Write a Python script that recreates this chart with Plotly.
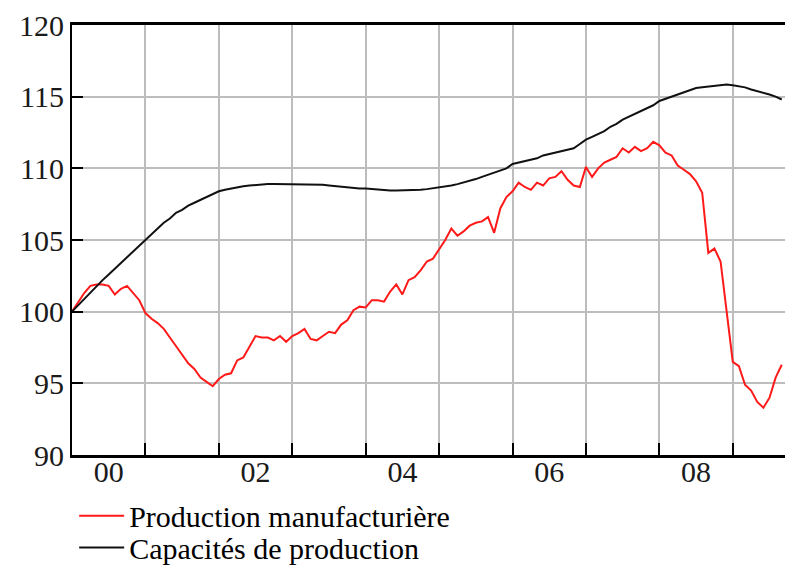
import plotly.graph_objects as go

# Monthly data, Jan 2000 .. Sep 2009 (index 100 = Jan 2000)
start_year = 2000
production = [
    100.0, 100.7, 101.3, 101.8, 101.9, 101.9, 101.8, 101.2, 101.6, 101.8, 101.3, 100.8,
    99.9, 99.5, 99.2, 98.8, 98.2, 97.6, 97.0, 96.4, 96.0, 95.4, 95.1, 94.8,
    95.3, 95.6, 95.7, 96.6, 96.8, 97.6, 98.3, 98.2, 98.2, 98.0, 98.3, 97.9,
    98.3, 98.5, 98.8, 98.1, 98.0, 98.3, 98.6, 98.5, 99.1, 99.4, 100.1, 100.35,
    100.3, 100.8, 100.8, 100.7, 101.4, 101.9, 101.2, 102.2, 102.4, 102.9, 103.5, 103.7,
    104.4, 105.0, 105.8, 105.3, 105.6, 106.0, 106.2, 106.3, 106.6, 105.5, 107.2, 108.0,
    108.4, 109.0, 108.7, 108.5, 109.0, 108.8, 109.3, 109.4, 109.8, 109.2, 108.8, 108.7,
    110.1, 109.4, 110.0, 110.4, 110.6, 110.8, 111.4, 111.1, 111.5, 111.2, 111.4, 111.85,
    111.6, 111.1, 110.9, 110.2, 109.9, 109.6, 109.1, 108.3, 104.1, 104.4, 103.5, 100.2,
    96.5, 96.2, 94.9, 94.5, 93.7, 93.3, 94.0, 95.4, 96.3,
]
capacite = [
    100.0, 100.45, 100.9, 101.3, 101.75, 102.2, 102.6, 103.0, 103.4, 103.8, 104.2, 104.6,
    105.0, 105.4, 105.8, 106.2, 106.5, 106.9, 107.1, 107.4, 107.6, 107.8, 108.0, 108.2,
    108.4, 108.5, 108.6, 108.7, 108.75, 108.8, 108.85, 108.9, 108.9, 108.9, 108.9, 108.9,
    108.9, 108.9, 108.9, 108.85, 108.85, 108.85, 108.8, 108.75, 108.7, 108.7, 108.65, 108.6,
    108.6, 108.55, 108.5, 108.5, 108.45, 108.45, 108.45, 108.45, 108.45, 108.5, 108.55, 108.6,
    108.7, 108.75, 108.8, 108.9, 109.0, 109.1, 109.25, 109.4, 109.55, 109.7, 109.85, 110.0,
    110.3, 110.4, 110.5, 110.6, 110.7, 110.9, 111.0, 111.1, 111.2, 111.3, 111.4, 111.7,
    112.0, 112.2, 112.4, 112.6, 112.9, 113.1, 113.4, 113.6, 113.8, 114.0, 114.2, 114.4,
    114.7, 114.85, 115.0, 115.2, 115.35, 115.5, 115.6, 115.65, 115.7, 115.75, 115.85, 115.85,
    115.8, 115.75, 115.65, 115.5, 115.4, 115.3, 115.15, 115.0, 114.8,
]
label_years = [2000, 2002, 2004, 2006, 2008]
tick_labels = ["00", "02", "04", "06", "08"]
grid_years = [2001, 2002, 2003, 2004, 2005, 2006, 2007, 2008, 2009]
y_ticks = [90, 95, 100, 105, 110, 115, 120]

t_prod = [start_year + i / 12 for i in range(len(production))]
t_cap = [start_year + i / 12 for i in range(len(capacite))]

FONT = "Liberation Serif, Times New Roman, serif"

fig = go.Figure()
fig.add_trace(go.Scatter(x=t_prod, y=production, mode="lines",
                         name="Production manufacturière",
                         line=dict(color="#ff1a1a", width=2), legend="legend"))
fig.add_trace(go.Scatter(x=t_cap, y=capacite, mode="lines",
                         name="Capacités de production",
                         line=dict(color="#111111", width=2), legend="legend2"))

legend_common = dict(x=0.003, xanchor="left", yanchor="middle",
                     orientation="v", font=dict(family=FONT, size=30, color="#000000"),
                     itemwidth=45, bgcolor="rgba(0,0,0,0)")

fig.update_layout(
    width=785, height=558,
    margin=dict(l=64, r=0, t=17, b=111, autoexpand=False),
    paper_bgcolor="white", plot_bgcolor="white",
    font=dict(family=FONT, size=30, color="#1a1a1a"),
    showlegend=True,
    legend=dict(y=-0.141, **legend_common),
    legend2=dict(y=-0.215, **legend_common),
    xaxis=dict(
        range=[2000.0, 2009.82],
        tickmode="array",
        tickvals=[y + 0.5 for y in label_years],
        ticktext=tick_labels,
        ticks="", showgrid=False, zeroline=False, automargin=False,
        ticklabelstandoff=-12,
        showline=True, linecolor="black", linewidth=3, mirror=True,
        minor=dict(tickmode="array", tickvals=grid_years, ticks="inside",
                   ticklen=12, tickwidth=2, tickcolor="black",
                   showgrid=True, gridcolor="#bdbdbd", gridwidth=2),
    ),
    yaxis=dict(
        range=[90, 120], automargin=False,
        tickmode="array", tickvals=y_ticks,
        ticks="inside", ticklen=11, tickwidth=2, tickcolor="black",
        showgrid=True, gridcolor="#bdbdbd", gridwidth=2, zeroline=False,
        showline=True, linecolor="black", linewidth=2,
    ),
)

fig.write_html("out.html")
